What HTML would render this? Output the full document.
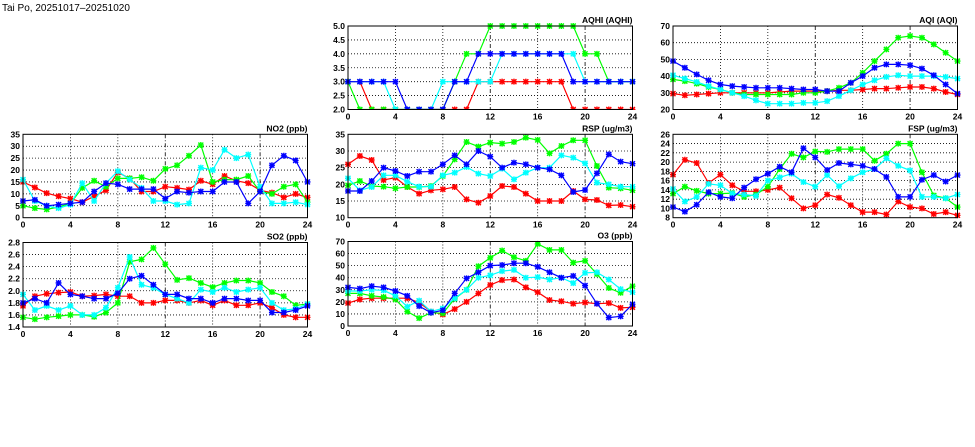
<!DOCTYPE html>
<html><head><meta charset="utf-8"><style>
html,body{margin:0;padding:0;background:#fff;width:975px;height:447px;overflow:hidden}
svg text{font-family:"Liberation Sans",sans-serif;font-weight:bold;font-size:8.5px;fill:#000}
</style></head><body>
<svg id="chart" width="975" height="447" xmlns="http://www.w3.org/2000/svg">
<text x="2" y="11" style="font-size:10px;font-weight:normal">Tai Po, 20251017–20251020</text>
</svg>
<script>
const hours=[0,1,2,3,4,5,6,7,8,9,10,11,12,13,14,15,16,17,18,19,20,21,22,23,24];
const xTicks=[0,4,8,12,16,20,24];

const aqhiRed=[3,3,2,2,2,2,2,2,2,2,2,3,3,3,3,3,3,3,3,2,2,2,2,2,2];
const aqhiGreen=[3,2,2,2,2,2,2,2,2,3,4,4,5,5,5,5,5,5,5,5,4,4,3,3,3];
const aqhiCyan=[3,3,3,3,2,2,2,2,3,3,3,3,3,4,4,4,4,4,4,4,3,3,3,3,3];
const aqhiBlue=[3,3,3,3,3,2,2,2,2,3,3,4,4,4,4,4,4,4,4,3,3,3,3,3,3];
const aqhiTicks=[2.0,2.5,3.0,3.5,4.0,4.5,5.0];

const aqiRed=[29.5,28.5,29,29.5,30,30,30,30,30,30.5,31,31,31,31,31.5,31.5,32,32.5,32.5,33,33.5,33.5,32.5,30.5,29];
const aqiGreen=[38,37,35.5,33.5,32,30,29,29,29,29,29,30,30,31,33,36,42,49,56,63,64,63,59,54,49];
const aqiCyan=[40.5,38.5,36.5,34,32,30,28,25.5,23.5,23.5,23.5,24,24,25,28,31.5,35,37.5,39.5,40.5,40,40,40,39.5,38.5];
const aqiBlue=[49,45,41,37.5,35,34,33.5,33,33,33,32.5,32,32,31,31,36,40,45,47,47,46.5,44.5,40.5,35,29.5];
const aqiTicks=[20,30,40,50,60,70];

const no2Red=[15,12.7,10.3,9,8,6.5,9,11.5,19,16.5,11,11,13,12.5,11.8,15.5,14,17.5,15.5,14.5,11.5,10.5,8.5,10,8.5];
const no2Green=[5,4,3.5,4.5,6,12.5,15.5,13,16.5,16.5,17,15.5,20.5,22,26,30.5,15,16,16,17.5,11,10,13,14,6.5];
const no2Cyan=[16,7,5,4,5.5,14.5,7,14.5,19.5,16,12.5,7,7,5.5,6,21,20,28.5,25,26.5,13,6,6,6.5,5.5];
const no2Blue=[7,7.5,5,5.5,6,6.5,11,14.5,14,12,12,12,8,11,10.5,11,11,15,15,6,11,22,26,24,15];
const no2Ticks=[0,5,10,15,20,25,30,35];

const rspRed=[26,28.5,27.3,21.3,22,19.2,17.2,18.2,18.5,19.2,15.5,14.5,16.5,19.5,19.2,17.2,15,15,15,18,15.5,15.3,13.7,13.8,13.3];
const rspGreen=[19.7,21,19.5,19.3,18.8,19.2,19.2,19.5,22.5,27.5,32.7,31.3,32.5,32.2,32.7,34,33.3,29.3,31.5,33.2,33.2,25.5,19,18.8,18.2];
const rspCyan=[21.8,18.2,19.2,22.7,22.7,20.8,19.3,19.3,22.7,23.5,25.2,23.2,22.5,24.7,21.5,23.5,25,25,28.7,28,26.3,20.5,20,19.3,19.3];
const rspBlue=[18,18,21,25,24,22.5,23.8,23.8,26,28.7,26,30,28.3,25,26.5,26,25,24.5,22.7,17.7,18.3,23.3,29,26.8,26.2];
const rspTicks=[10,15,20,25,30,35];

const fspRed=[17.3,20.5,19.8,15.5,17.3,15,13.7,13.7,14,14.5,12.2,10,10.7,13,12.3,10.7,9.2,9.2,8.7,11.5,10.3,10,8.8,9.2,8.5];
const fspGreen=[13.2,14.7,13.8,13.2,13.2,13.3,12.5,13,14.7,18.5,21.8,21,22.3,22.2,22.8,22.8,22.8,20.3,21.8,24,24,17.8,12.8,12.2,10.3];
const fspCyan=[14.2,11.5,12.5,15.3,15,13.2,13,12.7,16,16.7,17.5,15.7,14.7,17.2,14.8,16.5,17.8,18.5,20.8,19.2,18.2,12.5,12.5,12.2,13];
const fspBlue=[10.3,9.3,10.8,13.5,12.5,12.2,14.5,16.3,17.5,19,17.8,23,21,18.3,19.8,19.5,19.2,18.5,16.8,12.5,12.5,16.2,17.2,15.8,17.2];
const fspTicks=[8,10,12,14,16,18,20,22,24,26];

const so2Red=[1.75,1.91,1.95,1.97,1.98,1.91,1.92,1.94,1.91,1.91,1.8,1.8,1.84,1.84,1.8,1.84,1.76,1.84,1.76,1.76,1.8,1.72,1.6,1.56,1.56];
const so2Green=[1.56,1.53,1.56,1.58,1.6,1.6,1.57,1.64,1.8,2.48,2.52,2.71,2.44,2.18,2.21,2.13,2.06,2.13,2.17,2.17,2.13,1.98,1.91,1.76,1.78];
const so2Cyan=[1.94,1.68,1.75,1.68,1.75,1.6,1.6,1.72,2.05,2.56,2.1,2.05,1.94,1.87,1.8,2.02,1.98,2.05,1.98,2.02,2.05,1.8,1.68,1.7,1.78];
const so2Blue=[1.8,1.87,1.8,2.13,1.94,1.91,1.87,1.87,1.96,2.2,2.25,2.1,1.94,1.94,1.87,1.87,1.8,1.87,1.87,1.84,1.84,1.64,1.64,1.68,1.75];
const so2Ticks=[1.4,1.6,1.8,2.0,2.2,2.4,2.6,2.8];

const o3Red=[19,22,23,23,23,23,19.5,12,9.5,14,20,27,34,38,38.5,32,28,21.5,20.5,18.5,19.5,18.5,19,15,15.5];
const o3Green=[27,27,25,24,22,12,6.5,11,10.5,22.5,30,49.5,56.5,62.5,57,54,68,63,63,52.5,54,43,31.5,27.5,33];
const o3Cyan=[29,29,30,29.5,25,16,21,12,14.5,23,30,40,42,45.5,46.5,40,40.5,38.5,40,35.5,44,44.5,38.5,30.5,28];
const o3Blue=[32,31,33,32,29,25,16.5,11,13,27,39.5,44.5,50,50.5,52,52,49,44.5,40,41.5,33.5,18.5,7,8,18];
const o3Ticks=[0,10,20,30,40,50,60,70];

const NS='http://www.w3.org/2000/svg';
const svg=document.getElementById('chart');
function mk(tag,attrs,parent){const e=document.createElementNS(NS,tag);for(const k in attrs)e.setAttribute(k,attrs[k]);(parent||svg).appendChild(e);return e;}

const colors=['#ff0000','#00ff00','#00ffff','#0000ff'];
const seriesNames=['red','green','cyan','blue'];

function panel(id,title,L,T,W,H,ticks,fmt,series){
  const g=mk('g',{});
  
  
  const ymin=ticks[0],ymax=ticks[ticks.length-1];
  const xs=h=>L+h/24*W;
  const ys=v=>T+H-(v-ymin)/(ymax-ymin)*H;
  ticks.forEach((t,i)=>{
    const y=ys(t);
    if(i>0&&i<ticks.length-1){
      const gl=mk('line',{x1:L,x2:L+W,y1:y,y2:y,stroke:'#000','stroke-width':0.8,'stroke-dasharray':'1,2'},g);
      
      
    }
    const tl=mk('text',{x:L-3,y:y+3,'text-anchor':'end'},g);
    tl.textContent=fmt(t);
    
    
  });
  xTicks.forEach((h,i)=>{
    const x=xs(h);
    if(i>0&&i<xTicks.length-1){
      const gl=mk('line',{x1:x,x2:x,y1:T,y2:T+H,stroke:'#000','stroke-width':0.8,'stroke-dasharray':(h===12||h===20)?'4,2,1,2':'1,2'},g);
      
      
    }
    const tl=mk('text',{x:x,y:T+H+10,'text-anchor':'middle'},g);
    tl.textContent=h;
    
    
  });
  const cp='clip-'+id;
  const c=mk('clipPath',{id:cp},g);
  mk('rect',{x:L-4,y:T-4,width:W+8,height:H+4.5},c);
  const sg=mk('g',{'clip-path':'url(#'+cp+')'},g);
  series.forEach((vals,si)=>{
    const col=colors[si];
    const pts=hours.map((h,i)=>xs(h).toFixed(1)+','+ys(vals[i]).toFixed(1)).join(' ');
    const pl=mk('polyline',{points:pts,fill:'none',stroke:col,'stroke-width':1.2},sg);
    
    
    hours.forEach((h,i)=>{
      const x=xs(h),y=ys(vals[i]);
      const m=mk('path',{d:`M${x-2.5},${y-2.5}L${x+2.5},${y+2.5}M${x-2.5},${y+2.5}L${x+2.5},${y-2.5}M${x-3},${y}L${x+3},${y}M${x},${y-3}L${x},${y+3}`,stroke:col,'stroke-width':1.3,fill:'none'},sg);
      
      
      const sq=mk('rect',{x:x-2.5,y:y-2.5,width:5,height:5,fill:col,opacity:0.35},sg);
      
      
    });
  });
  const fr=mk('rect',{x:L,y:T,width:W,height:H,fill:'none',stroke:'#000','stroke-width':1},g);
  
  
  const tt=mk('text',{x:L+W,y:T-3,'text-anchor':'end'},g);
  tt.textContent=title;
  
  
}
const f1=v=>v.toFixed(1), f0=v=>String(v);
panel('aqhi','AQHI (AQHI)',348,26,284.5,83.5,aqhiTicks,f1,[aqhiRed,aqhiGreen,aqhiCyan,aqhiBlue]);
panel('aqi','AQI (AQI)',673,26,284.5,83.5,aqiTicks,f0,[aqiRed,aqiGreen,aqiCyan,aqiBlue]);
panel('no2','NO2 (ppb)',23,134.3,284.5,83.4,no2Ticks,f0,[no2Red,no2Green,no2Cyan,no2Blue]);
panel('rsp','RSP (ug/m3)',348,134.3,284.5,83.4,rspTicks,f0,[rspRed,rspGreen,rspCyan,rspBlue]);
panel('fsp','FSP (ug/m3)',673,134.3,284.5,83.4,fspTicks,f0,[fspRed,fspGreen,fspCyan,fspBlue]);
panel('so2','SO2 (ppb)',23,242.5,284.5,84.5,so2Ticks,f1,[so2Red,so2Green,so2Cyan,so2Blue]);
panel('o3','O3 (ppb)',348,241.5,284.5,84.5,o3Ticks,f0,[o3Red,o3Green,o3Cyan,o3Blue]);
</script>
</body></html>
